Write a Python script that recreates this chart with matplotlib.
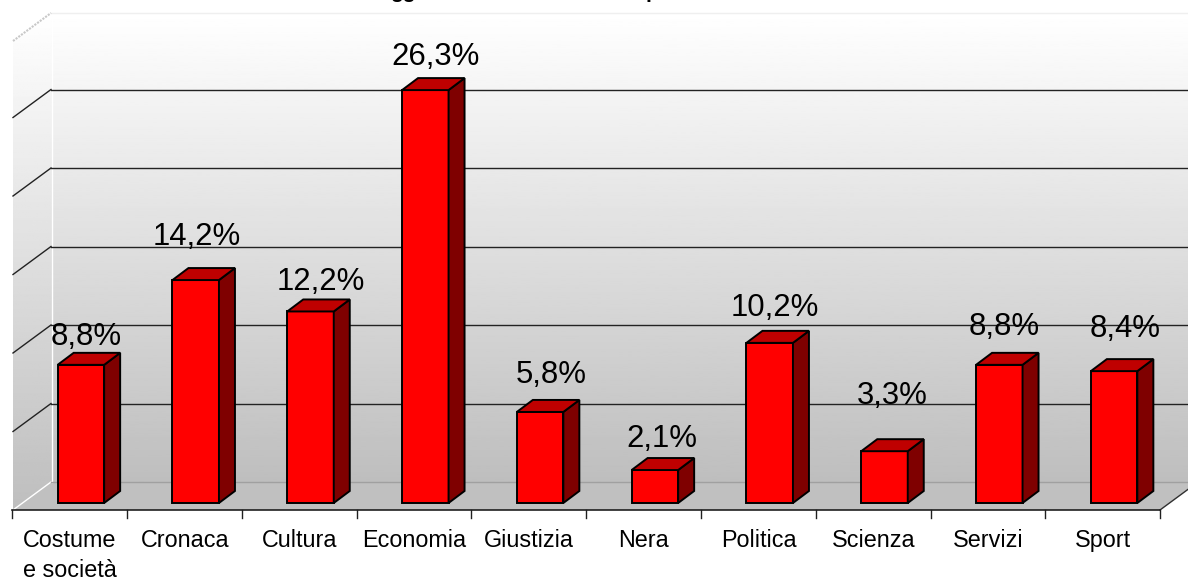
import numpy as np
import matplotlib
matplotlib.use("Agg")
import matplotlib.pyplot as plt
from matplotlib.patches import Polygon

plt.rcParams['font.family'] = ['Liberation Sans', 'DejaVu Sans']

# =========================================================
# DATA
# =========================================================

categories = ["Costume\ne società", "Cronaca", "Cultura", "Economia", "Giustizia",
              "Nera", "Politica", "Scienza", "Servizi", "Sport"]
values = [8.8, 14.2, 12.2, 26.3, 5.8, 2.1, 10.2, 3.3, 8.8, 8.4]
value_labels = ["8,8%", "14,2%", "12,2%", "26,3%", "5,8%",
                "2,1%", "10,2%", "3,3%", "8,8%", "8,4%"]
gridlines = [0, 5, 10, 15, 20, 25]

# label shift from the front top of each bar, pixels
label_dx = [5, 1, 10, 10, 11, 7, 5, 8, 5, 11]
label_dy = [28, 43, 29, 33, 37, 31, 35, 55, 38, 42]

# =========================================================
# GEOMETRY (pixels)
# =========================================================

W, H = 1188, 578
X0, X_STEP = 69.5, 114.8    # first category centre, category spacing
Y_ZERO, Y_UNIT = 503.0, 15.7  # bar base, pixels per percent
BAR_W, BAR_SHIFT = 46.5, 11.4
BAR_DX, BAR_DY = 16, 12     # bar depth
WALL_X, WALL_BOTTOM, WALL_TOP = 51, 482, 13
FRONT_X, FRONT_Y = 13, 510
RIGHT_X = 1160
DEPTH_X, DEPTH_Y = WALL_X - FRONT_X, FRONT_Y - WALL_BOTTOM

fig = plt.figure(figsize=(W / 100, H / 100), dpi=100)

# background layer in pixel coordinates
bg = fig.add_axes([0, 0, 1, 1])
bg.axis("off")

# data layer: category index / percent
ax = fig.add_axes([0, 0, 1, 1])
ax.set_xlim(-X0 / X_STEP, (W - X0) / X_STEP)
ax.set_ylim((Y_ZERO - H) / Y_UNIT, Y_ZERO / Y_UNIT)
ax.axis("off")
ax.patch.set_alpha(0)

# =========================================================
# WALLS AND FLOOR
# =========================================================

grad = np.linspace(1, 0.745, 256).reshape(-1, 1)

back = Polygon([(WALL_X, WALL_TOP), (W + 40, WALL_TOP), (W + 40, WALL_BOTTOM), (WALL_X, WALL_BOTTOM)],
               closed=True, fc="none", ec="none")
bg.add_patch(back)
im = bg.imshow(grad, cmap="gray", vmin=0, vmax=1, aspect="auto",
               extent=(WALL_X, W, WALL_BOTTOM, WALL_TOP), zorder=1)
im.set_clip_path(back)

side = Polygon([(FRONT_X, WALL_TOP + DEPTH_Y), (WALL_X, WALL_TOP), (WALL_X, WALL_BOTTOM), (FRONT_X, FRONT_Y)],
               closed=True, fc="none", ec="none")
bg.add_patch(side)
im2 = bg.imshow(grad, cmap="gray", vmin=0, vmax=1, aspect="auto",
                extent=(FRONT_X, WALL_X, FRONT_Y, WALL_TOP), zorder=1)
im2.set_clip_path(side)
bg.set_xlim(0, W)
bg.set_ylim(H, 0)

bg.add_patch(Polygon([(FRONT_X, FRONT_Y), (RIGHT_X, FRONT_Y), (RIGHT_X + DEPTH_X, WALL_BOTTOM), (WALL_X, WALL_BOTTOM)],
                     closed=True, fc="#c0c0c0", ec="none", zorder=2))

# white edges of the side wall
bg.plot([WALL_X + 1, WALL_X + 1], [WALL_TOP, WALL_BOTTOM], color="white", lw=1, zorder=3)
bg.plot([FRONT_X, WALL_X], [FRONT_Y, WALL_BOTTOM], color="white", lw=1, zorder=3)
bg.plot([WALL_X, W], [WALL_BOTTOM, WALL_BOTTOM], color="#a0a0a0", lw=1, zorder=3)
bg.plot([WALL_X, W], [WALL_TOP, WALL_TOP], color="#efefef", lw=1, zorder=3)
bg.plot([RIGHT_X, RIGHT_X + DEPTH_X], [FRONT_Y, WALL_BOTTOM], color="#303030", lw=1, zorder=3)
bg.plot([FRONT_X, WALL_X], [WALL_TOP + DEPTH_Y, WALL_TOP], color="#c8c8c8", lw=1.5, ls=(0, (1, 0.6)), zorder=3)

# gridlines on back and side wall
for g in gridlines[1:]:
    y = WALL_BOTTOM - g * Y_UNIT
    bg.plot([WALL_X, W], [y, y], color="#222222", lw=1, zorder=3)
    bg.plot([FRONT_X, WALL_X], [y + DEPTH_Y, y], color="#222222", lw=1, zorder=3)

# category axis
bg.plot([FRONT_X - 1, RIGHT_X], [FRONT_Y, FRONT_Y], color="#202020", lw=1.2, zorder=3)
for i in range(len(categories) + 1):
    x = X0 + (i - 0.5) * X_STEP
    bg.plot([x, x], [FRONT_Y, FRONT_Y + 8], color="#202020", lw=1, zorder=3)

# title is cut by the top edge of the picture, only descenders show
bg.text(403, -2, "gg", ha="center", va="baseline", fontsize=15, fontweight="bold", zorder=6)
bg.text(652, -2, "p", ha="center", va="baseline", fontsize=15, fontweight="bold", zorder=6)

# =========================================================
# BARS
# =========================================================

w = BAR_W / X_STEP
shift = BAR_SHIFT / X_STEP
dx = BAR_DX / X_STEP
dy = BAR_DY / Y_UNIT

for i, v in enumerate(values):
    left = i + shift - w / 2
    right = left + w
    ax.add_patch(Polygon([(left, 0), (right, 0), (right, v), (left, v)],
                         closed=True, fc="#ff0000", ec="black", lw=1.4, zorder=5))
    ax.add_patch(Polygon([(right, 0), (right + dx, dy), (right + dx, v + dy), (right, v)],
                         closed=True, fc="#7f0000", ec="black", lw=1.4, zorder=5))
    ax.add_patch(Polygon([(left, v), (right, v), (right + dx, v + dy), (left + dx, v + dy)],
                         closed=True, fc="#bf0000", ec="black", lw=1.4, zorder=5))
    ax.annotate(value_labels[i], (i + shift, v),
                xytext=(label_dx[i] * 0.72, label_dy[i] * 0.72), textcoords="offset points",
                ha="center", va="center", fontsize=22.4, color="black", zorder=6)
    ax.annotate(categories[i], (i, 0),
                xytext=(0.5 * 0.72, -26 * 0.72), textcoords="offset points",
                ha="center", va="top", fontsize=16.8, color="black",
                linespacing=1.4, zorder=6, annotation_clip=False)

fig.savefig("out.png", dpi=100)
